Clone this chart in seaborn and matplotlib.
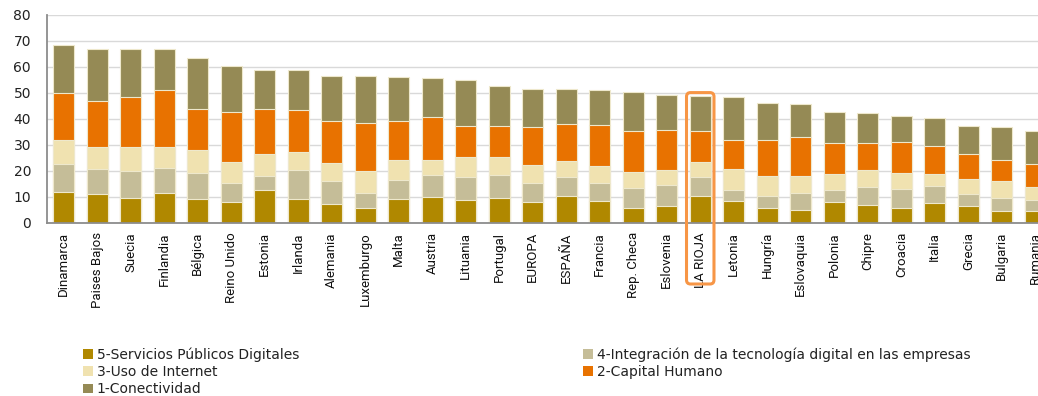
import numpy as np
import pandas as pd
import matplotlib
matplotlib.use("Agg")
import matplotlib.pyplot as plt
from matplotlib import font_manager
import seaborn as sns
from matplotlib.patches import FancyBboxPatch, Patch

countries = ["Dinamarca", "Paises Bajos", "Suecia", "Finlandia", "Bélgica", "Reino Unido",
             "Estonia", "Irlanda", "Alemania", "Luxemburgo", "Malta", "Austria", "Lituania",
             "Portugal", "EUROPA", "ESPAÑA", "Francia", "Rep. Checa", "Eslovenia", "LA RIOJA",
             "Letonia", "Hungría", "Eslovaquia", "Polonia", "Chipre", "Croacia", "Italia",
             "Grecia", "Bulgaria", "Rumania"]

servicios = [11.9, 11.3, 9.8, 11.6, 9.1, 8.1, 12.7, 9.1, 7.3, 5.9, 9.1, 10.1, 8.9, 9.8, 8.1,
             10.4, 8.6, 5.9, 6.5, 10.3, 8.3, 5.8, 5.0, 8.1, 6.8, 5.8, 7.7, 6.4, 4.6, 4.6]
integracion = [10.7, 9.5, 10.1, 9.5, 10.0, 7.2, 5.4, 11.2, 8.7, 5.7, 7.5, 8.4, 8.7, 8.7, 7.3,
               7.4, 6.8, 7.6, 8.1, 7.4, 4.4, 4.5, 6.6, 4.6, 7.1, 7.3, 6.4, 4.9, 5.0, 4.3]
uso_internet = [9.4, 8.5, 9.2, 8.2, 8.8, 8.1, 8.6, 6.9, 7.1, 8.3, 7.8, 5.9, 7.8, 6.7, 6.8,
                6.2, 6.6, 6.3, 5.9, 5.7, 8.0, 7.7, 6.4, 6.3, 6.6, 6.0, 4.9, 5.8, 6.4, 4.8]
capital_humano = [18.1, 17.7, 19.4, 22.0, 16.0, 19.3, 17.3, 16.1, 16.3, 18.4, 14.9, 16.3, 12.1,
                  12.2, 14.6, 14.1, 15.7, 15.4, 15.4, 11.8, 11.4, 14.0, 14.9, 11.8, 10.2, 12.0,
                  10.8, 9.5, 8.3, 9.1]
conectividad = [18.2, 20.1, 18.5, 15.6, 19.4, 17.8, 14.9, 15.4, 17.2, 18.2, 16.8, 15.1, 17.4,
                15.4, 14.8, 13.5, 13.3, 15.0, 13.3, 13.8, 16.3, 14.3, 12.7, 11.9, 11.5, 10.2,
                10.5, 10.8, 12.5, 12.5]

series_names = ["5-Servicios Públicos Digitales",
                "4-Integración de la tecnología digital en las empresas",
                "3-Uso de Internet", "2-Capital Humano", "1-Conectividad"]
series_colors = ["#B08800", "#C5BD98", "#F0E2B0", "#E87200", "#958A55"]
highlight = "LA RIOJA"
yticks = [0, 10, 20, 30, 40, 50, 60, 70, 80]

df = pd.DataFrame({"pais": countries, "s5": servicios, "s4": integracion,
                   "s3": uso_internet, "s2": capital_humano, "s1": conectividad})
cols = ["s5", "s4", "s3", "s2", "s1"]
cum = df[cols].cumsum(axis=1)

sns.set_style("white")
plt.rcParams["font.family"] = ["DejaVu Sans"]


def have(name):
    try:
        font_manager.findfont(font_manager.FontProperties(family=name),
                              fallback_to_default=False)
        return True
    except Exception:
        return False


if have("Liberation Sans Narrow"):
    xfont = dict(family=["Liberation Sans Narrow", "DejaVu Sans"], fontsize=10)
else:
    xfont = dict(family=["Roboto", "DejaVu Sans"], fontsize=9.5)

W, H = 1038, 396
fig = plt.figure(figsize=(W / 100, H / 100), dpi=100)
ax = fig.add_axes([47 / W, (H - 223) / H, 1005 / W, 208 / H])

# stacked bars: draw cumulative layers from top to bottom
for i in range(len(cols) - 1, -1, -1):
    sns.barplot(x=df["pais"], y=cum[cols[i]], color=series_colors[i], saturation=1,
                width=0.63, edgecolor="#EEE8CC", linewidth=0.8, ax=ax, zorder=2)

ax.set_ylim(0, 80)
ax.set_xlim(-0.5, len(countries) - 0.5)
ax.set_yticks(yticks)
ax.yaxis.grid(True, color="#D9D9D9", linewidth=1.0, zorder=0)
ax.set_axisbelow(True)
ax.set_xlabel("")
ax.set_ylabel("")
for s in ["top", "right"]:
    ax.spines[s].set_visible(False)
for s in ["left", "bottom"]:
    ax.spines[s].set_color("#8C8C8C")
    ax.spines[s].set_linewidth(1.3)
ax.tick_params(axis="y", length=0, pad=11.5, labelsize=10, labelcolor="#222222")
ax.tick_params(axis="x", length=0, pad=6.5)
ax.set_xticks(range(len(countries)))
ax.set_xticklabels(countries, rotation=90, va="top", ha="center", color="#111111", **xfont)

# highlight box around LA RIOJA
idx = countries.index(highlight)
tot = cum["s1"].iloc[idx]
fig.canvas.draw()
p0 = ax.transData.transform((0, 0))
p1 = ax.transData.transform((1, 1))
xpx = p1[0] - p0[0]
ypx = p1[1] - p0[1]
bottom_val = -(284 - 223) / ypx
top_val = tot + 3 / ypx
r = 4 / xpx
box = FancyBboxPatch((idx - 0.41, bottom_val), 0.82, top_val - bottom_val,
                     boxstyle=f"round,pad=0,rounding_size={r}",
                     mutation_aspect=xpx / ypx,
                     fill=False, edgecolor="#F79646", linewidth=2.2,
                     transform=ax.transData, clip_on=False, zorder=5)
ax.add_patch(box)

# legends
handles = [Patch(facecolor=c, edgecolor="none") for c in series_colors]
lkw = dict(frameon=False, fontsize=10, handlelength=0.7, handleheight=0.7,
           handletextpad=0.3, labelspacing=0.25, borderpad=0, borderaxespad=0,
           loc="upper left", labelcolor="#222222")
leg1 = fig.legend([handles[0], handles[2], handles[4]],
                  [series_names[0], series_names[2], series_names[4]],
                  bbox_to_anchor=(83 / W, 1 - 347 / H), **lkw)
leg2 = fig.legend([handles[1], handles[3]], [series_names[1], series_names[3]],
                  bbox_to_anchor=(583 / W, 1 - 347 / H), **lkw)

fig.savefig("out.png", dpi=100)
